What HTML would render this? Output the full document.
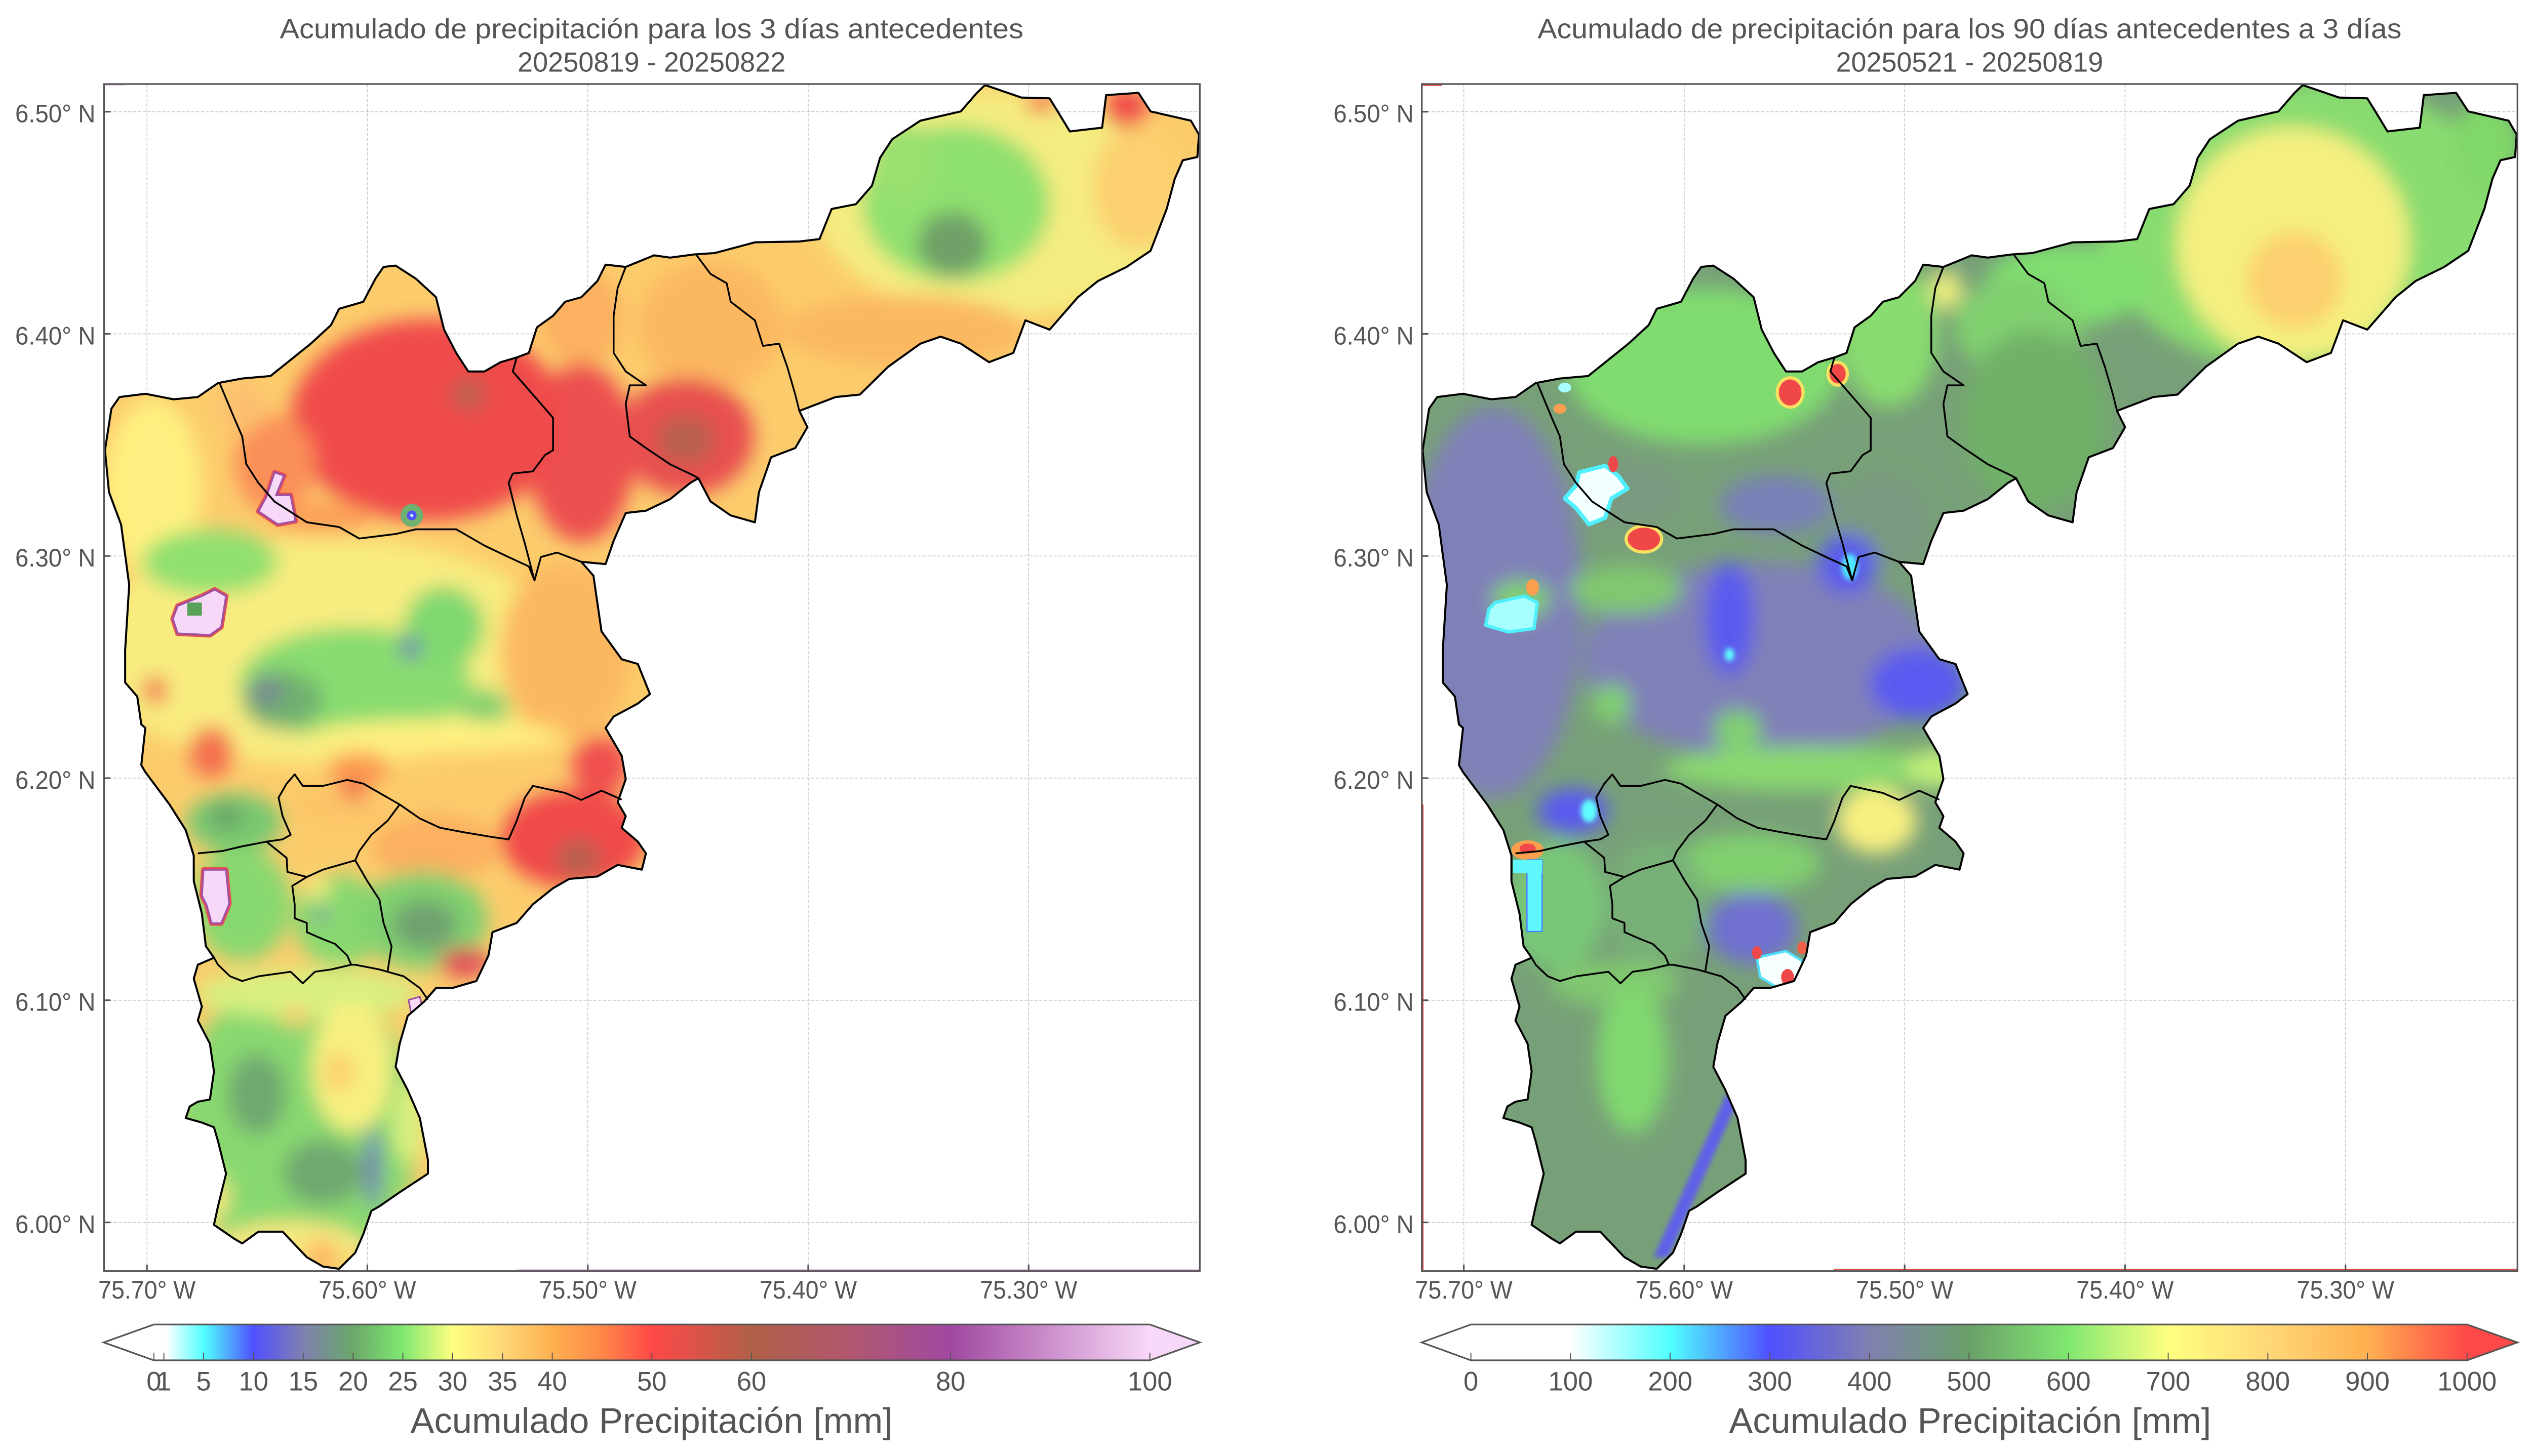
<!DOCTYPE html>
<html><head><meta charset="utf-8"><style>
html,body{margin:0;padding:0;background:#fff;overflow:hidden;width:100%;height:100%;}
svg{display:block;width:100vw;height:100vh;}
text{font-family:"Liberation Sans",sans-serif;fill:#555;}
</style></head><body>
<svg viewBox="0 0 1568 894.05" preserveAspectRatio="none" xmlns="http://www.w3.org/2000/svg" xmlns:xlink="http://www.w3.org/1999/xlink">
<defs>
<path id="outp" d="M610,52.2 L632.5,59.9 650,60.4 655,68.4 662.5,80.7 682.5,78.4 685,58.4 705,57 712.5,68.4 737.5,74.1 742.5,82.7 741.5,96.4 732.5,98.4 727.5,109.8 722.5,128.3 712.5,154 697.5,164 680,172.5 667.5,182.5 650,202.4 635,196.7 627.5,216.7 612.5,222.4 595,211 582.5,206.7 570,211 550,225.2 532.5,242.3 517.5,243.8 495,252.3 500,262.3 492.5,275.1 477.5,280.8 475,288 470,302.2 467.5,320.7 452.5,316.5 440,307.9 432.5,293.7 427.5,296.5 415,306.5 400,313.6 387.5,315 380,332.1 375,346.4 360,345 367.5,353.5 370,370.6 372.5,387.7 385,404.8 395,407.7 402.5,426.2 395,432 380,440 375,447 385,464.1 387.5,478.4 382.5,492.6 387.5,501.2 385,508.3 395,516.8 400,524 397.5,534 382.5,531.1 370,538.2 352.5,539.7 342.5,545.4 330,555.3 320,566.7 305,572.4 302.5,586.7 295,602.4 280,606.7 270,606.7 262.5,615.2 252.5,623.8 247.5,640.9 245,655.1 252.5,669.4 260,686.5 265,712.2 265,720.7 247.5,732.1 235,740.7 230,743.5 225,757.8 220,769.2 210,779.1 200,777.7 190,772 175,756.3 160,756.3 150,763.5 145,760.6 132.5,752.1 135,740.7 140,720.7 135,700.7 132.5,692.2 125,689.3 115,686.5 117.5,679.4 122.5,676.5 130,675.1 132.5,658 130,640.9 122.5,626.6 125,618.1 120,601 122.5,592.4 132.5,588.1 127.5,581 125,561 120,541.1 120,525.4 115,509.7 105,494 90,474.1 87.5,469.8 90,447 87.5,444.8 85,427.7 77.5,419.1 77.5,399.1 80,359.2 75,322.2 67.5,302.2 65,276.5 69,250.9 74,243.8 90,241.8 107.5,245.2 122.5,243.8 135,235.2 150,232.4 167.5,230.9 192.5,211 205,199.6 210,189.6 225,185.3 232.5,171.1 237.5,163.9 245,163.1 257.5,171.1 270,182.5 275,202.4 282.5,216.7 290,228.1 300,228.1 310,222.4 320,219.5 327.5,216.7 332.5,201 342.5,193.9 350,185.3 360,182.5 370,172.5 375,162.5 387.5,163.9 405,156.8 415,158.2 430,156.2 442.5,155.4 467.5,148.8 495,148.3 507.5,146.8 515,128.3 530,125.4 540,114 545,96.9 552.5,85.5 570,74.1 595,68.4 605,57 Z"/>
<clipPath id="clipL"><use xlink:href="#outp"/></clipPath>
<g id="bnd" fill="none" stroke="#000" stroke-width="1.1" stroke-linejoin="round">
<polyline points="136,235.2 145,256.6 150,268 152.5,285 160,296.5 170,308 190,320.7 210,323.6 222.5,330.7 245,327.9 257.5,325 282.5,325 300,335 315,342.1 327.5,347.8 331,356.4 335,342 345,339.3 360,345"/>
<polyline points="331,356.4 325,333.6 320,316.5 315,296.5 317.5,290.8 330,289.4 337.5,279.4 342.5,276.5 342.5,256.6 335,248 325,236.6 317.5,228.1 320,219.5"/>
<polyline points="387.5,163.9 382.5,176.8 380,193.9 380,216.7 387.5,228.1 400,236.6 390,236.6 387.5,248 390,268 400,275.1 415,285.1 430,292.2 432.5,293.7"/>
<polyline points="431,156.2 440,168.2 450,173.9 452.5,185.3 467.5,196.7 472.5,212.4 482.5,211 487.5,225.2 492.5,242.3 495,252.3"/>
<polyline points="385,491 372.5,485.5 360,491.2 350,486.9 330,482.6 325,489.8 320,504 315,515.4 305,514 287.5,511.1 272.5,508.3 260,502.6 247.5,494 235,486.9 225,481.2 215,478.9 200,482.6 187.5,482.6 182.5,475.5 177.5,481.2 172.5,489.8 175,501.2 180,512.6 175,515.4 165,516.8 150,519.7 137.5,522.6 122.5,524"/>
<polyline points="165,516.8 177.5,526.8 178,535.4 190,538.5 200,534 220,528.3"/>
<polyline points="247.5,494 240,504 230,512.6 222.5,522.6 220,528.3 227.5,541.1 235,552.5 237.5,566.7 242.5,581 240,596.7"/>
<polyline points="190,538.5 181,544 182.5,555.3 182.5,563.9 190,566.7 190,572.4 200,576.7 207.5,579.6 215,586.7 217.5,592.4"/>
<polyline points="132.5,588.1 135,592.4 142.5,599.5 150,602.4 160,599.5 170,598.1 180,596.7 187.5,603.8 195,596.7 205,595.3 217.5,592.4 220,592.4 235,595.3 250,599.5 260,606.7 265,613.8"/>
</g>
<filter id="bl" filterUnits="userSpaceOnUse" x="-100" y="0" width="1000" height="900"><feGaussianBlur stdDeviation="6"/></filter>
<filter id="bl2" filterUnits="userSpaceOnUse" x="-100" y="0" width="1000" height="900"><feGaussianBlur stdDeviation="1.5"/></filter>
<linearGradient id="gL" gradientUnits="userSpaceOnUse" x1="95.3" y1="0" x2="712.1" y2="0">
<stop offset="0" stop-color="#ffffff"/><stop offset="0.012" stop-color="#ffffff"/>
<stop offset="0.05" stop-color="#50ffff"/><stop offset="0.10" stop-color="#5050ff"/>
<stop offset="0.15" stop-color="#8080b0"/><stop offset="0.20" stop-color="#6aa86a"/>
<stop offset="0.25" stop-color="#80e870"/><stop offset="0.30" stop-color="#ffff80"/>
<stop offset="0.35" stop-color="#ffd878"/><stop offset="0.40" stop-color="#ffb050"/>
<stop offset="0.45" stop-color="#ff8848"/><stop offset="0.50" stop-color="#ff4848"/>
<stop offset="0.60" stop-color="#b06048"/><stop offset="0.70" stop-color="#b05870"/>
<stop offset="0.80" stop-color="#a048a0"/><stop offset="1" stop-color="#f8d8f8"/>
</linearGradient>
<linearGradient id="gR" gradientUnits="userSpaceOnUse" x1="910.9" y1="0" x2="1527.8" y2="0">
<stop offset="0" stop-color="#ffffff"/><stop offset="0.1" stop-color="#ffffff"/>
<stop offset="0.2" stop-color="#50ffff"/><stop offset="0.3" stop-color="#5050ff"/>
<stop offset="0.4" stop-color="#8080b0"/><stop offset="0.5" stop-color="#6aa06a"/>
<stop offset="0.6" stop-color="#80e870"/><stop offset="0.7" stop-color="#ffff80"/>
<stop offset="0.8" stop-color="#ffd878"/><stop offset="0.9" stop-color="#ffb050"/>
<stop offset="1" stop-color="#ff4848"/>
</linearGradient>
</defs>

<!-- ===== LEFT PANEL ===== -->
<g stroke="#c8c8c8" stroke-width="0.5" stroke-dasharray="2 1">
<line x1="64.4" x2="743" y1="68.6" y2="68.6"/><line x1="64.4" x2="743" y1="205" y2="205"/>
<line x1="64.4" x2="743" y1="341.4" y2="341.4"/><line x1="64.4" x2="743" y1="477.8" y2="477.8"/>
<line x1="64.4" x2="743" y1="614.2" y2="614.2"/><line x1="64.4" x2="743" y1="750.6" y2="750.6"/>
<line y1="51.6" y2="780.5" x1="91" x2="91"/><line y1="51.6" y2="780.5" x1="227.5" x2="227.5"/>
<line y1="51.6" y2="780.5" x1="364" x2="364"/><line y1="51.6" y2="780.5" x1="500.5" x2="500.5"/>
<line y1="51.6" y2="780.5" x1="637" x2="637"/>
</g>

<g clip-path="url(#clipL)">
<rect x="50" y="40" width="720" height="760" fill="#fccc6c"/>
<g filter="url(#bl)">
<ellipse cx="620" cy="125" rx="115" ry="70" fill="#f4ec80"/>
<ellipse cx="592" cy="125" rx="58" ry="48" fill="#8ee070"/>
<ellipse cx="560" cy="100" rx="20" ry="25" fill="#98e070"/>
<ellipse cx="590" cy="150" rx="22" ry="20" fill="#70a068"/>
<ellipse cx="560" cy="203" rx="75" ry="22" fill="#fbb860"/>
<ellipse cx="705" cy="115" rx="28" ry="38" fill="#fcd070"/>
<ellipse cx="697" cy="66" rx="14" ry="12" fill="#f04848"/>
<ellipse cx="645" cy="63" rx="10" ry="6" fill="#f46050"/>
<ellipse cx="440" cy="200" rx="45" ry="40" fill="#fcb860"/>
<ellipse cx="425" cy="268" rx="42" ry="36" fill="#e85050"/>
<ellipse cx="425" cy="270" rx="18" ry="15" fill="#b86050"/>
<ellipse cx="360" cy="195" rx="25" ry="30" fill="#fcb060"/>
<ellipse cx="360" cy="278" rx="33" ry="55" fill="#ec5050"/>
<ellipse cx="265" cy="258" rx="85" ry="62" fill="#f04c4c"/>
<ellipse cx="290" cy="242" rx="10" ry="10" fill="#b86050"/>
<ellipse cx="170" cy="285" rx="25" ry="30" fill="#fa9058"/>
<ellipse cx="150" cy="250" rx="15" ry="15" fill="#fcc070"/>
<ellipse cx="200" cy="318" rx="30" ry="10" fill="#fca058"/>
<ellipse cx="200" cy="400" rx="150" ry="70" fill="#f8ec80"/>
<ellipse cx="95" cy="300" rx="30" ry="55" fill="#fef080"/>
<ellipse cx="130" cy="345" rx="42" ry="20" fill="#90e070"/>
<ellipse cx="220" cy="420" rx="72" ry="35" fill="#88dc70"/>
<ellipse cx="275" cy="385" rx="25" ry="25" fill="#80d870"/>
<ellipse cx="175" cy="430" rx="25" ry="18" fill="#70b070"/>
<ellipse cx="165" cy="424" rx="10" ry="10" fill="#7a8a90"/>
<ellipse cx="254" cy="398" rx="6" ry="7" fill="#7070b8"/>
<ellipse cx="300" cy="435" rx="15" ry="12" fill="#80d070"/>
<ellipse cx="350" cy="400" rx="40" ry="55" fill="#fcb860"/>
<ellipse cx="270" cy="452" rx="80" ry="10" fill="#fff080"/>
<ellipse cx="131" cy="462" rx="14" ry="16" fill="#f47050"/>
<ellipse cx="222" cy="472" rx="20" ry="10" fill="#fc9850"/>
<ellipse cx="96" cy="424" rx="7" ry="8" fill="#f05048"/>
<ellipse cx="372" cy="470" rx="18" ry="18" fill="#f05050"/>
<ellipse cx="355" cy="515" rx="45" ry="30" fill="#f04848"/>
<ellipse cx="358" cy="527" rx="14" ry="12" fill="#b86050"/>
<ellipse cx="270" cy="520" rx="40" ry="20" fill="#fcb060"/>
<ellipse cx="210" cy="495" rx="30" ry="12" fill="#fcc468"/>
<ellipse cx="219" cy="485" rx="8" ry="6" fill="#f06050"/>
<ellipse cx="145" cy="505" rx="30" ry="18" fill="#78c870"/>
<ellipse cx="140" cy="501" rx="10" ry="8" fill="#68a068"/>
<ellipse cx="150" cy="555" rx="30" ry="35" fill="#88d870"/>
<ellipse cx="210" cy="565" rx="28" ry="28" fill="#88d870"/>
<ellipse cx="197" cy="546" rx="8" ry="6" fill="#f0f080"/>
<ellipse cx="199" cy="562" rx="4" ry="4" fill="#8080b0"/>
<ellipse cx="262" cy="565" rx="40" ry="30" fill="#80d070"/>
<ellipse cx="263" cy="568" rx="20" ry="15" fill="#70a070"/>
<ellipse cx="288" cy="591" rx="16" ry="9" fill="#e04858"/>
<ellipse cx="185" cy="690" rx="75" ry="90" fill="#88d870"/>
<ellipse cx="190" cy="610" rx="70" ry="15" fill="#d8f080"/>
<ellipse cx="218" cy="655" rx="25" ry="40" fill="#f8f080"/>
<ellipse cx="210" cy="658" rx="10" ry="12" fill="#fcd070"/>
<ellipse cx="159" cy="672" rx="18" ry="25" fill="#70a870"/>
<ellipse cx="200" cy="720" rx="25" ry="20" fill="#70a870"/>
<ellipse cx="231" cy="717" rx="5" ry="25" fill="#7078b8"/>
<ellipse cx="253" cy="690" rx="10" ry="25" fill="#d8f080"/>
<ellipse cx="180" cy="765" rx="45" ry="15" fill="#f8e880"/>
<ellipse cx="199" cy="770" rx="10" ry="8" fill="#fcb060"/>
<ellipse cx="130" cy="735" rx="12" ry="15" fill="#f8e880"/>
<ellipse cx="183" cy="624" rx="10" ry="6" fill="#fcd070"/>
</g>
<g stroke-linejoin="round">
<polygon points="170,290 176,292 171,304 180,304 183,320 172,322 160,314 165,305" fill="#f8d8f8" stroke="#e85050" stroke-width="3"/>
<polygon points="170,290 176,292 171,304 180,304 183,320 172,322 160,314 165,305" fill="#f8d8f8" stroke="#a050a0" stroke-width="1.2"/>
<polygon points="110,372 125,366 133,362 140,366 137,385 130,390 110,389 107,380" fill="#f8d8f8" stroke="#e85050" stroke-width="3"/>
<polygon points="110,372 125,366 133,362 140,366 137,385 130,390 110,389 107,380" fill="#f8d8f8" stroke="#a050a0" stroke-width="1.2"/>
<rect x="116" y="370" width="9" height="8" fill="#58a058"/>
<polygon points="126,534 140,534 142,555 137,567 131,567 128,556 125,550" fill="#f8d8f8" stroke="#e85050" stroke-width="3"/>
<polygon points="126,534 140,534 142,555 137,567 131,567 128,556 125,550" fill="#f8d8f8" stroke="#a050a0" stroke-width="1.2"/>
<polygon points="253,614 260,612 262,620 255,624" fill="#f8d8f8" stroke="#a050a0" stroke-width="1"/>
<circle cx="255" cy="316.5" r="7" fill="#70b070"/>
<circle cx="255" cy="316.5" r="3" fill="#5050ff"/>
<circle cx="255" cy="316.5" r="1" fill="#c0ffff"/>
</g>
</g>
<use xlink:href="#outp" fill="none" stroke="#000" stroke-width="1.25" stroke-linejoin="round"/>
<use xlink:href="#bnd"/>

<line x1="320" x2="743" y1="779.6" y2="779.6" stroke="#f0c8f0" stroke-width="0.6"/>
<line x1="65" x2="77" y1="52.4" y2="52.4" stroke="#f0c8f0" stroke-width="0.6"/>

<rect x="64.4" y="51.6" width="678.6" height="728.9" fill="none" stroke="#555" stroke-width="1.03"/>
<g stroke="#555" stroke-width="1">
<line x1="64.4" x2="68.4" y1="68.6" y2="68.6"/><line x1="64.4" x2="68.4" y1="205" y2="205"/>
<line x1="64.4" x2="68.4" y1="341.4" y2="341.4"/><line x1="64.4" x2="68.4" y1="477.8" y2="477.8"/>
<line x1="64.4" x2="68.4" y1="614.2" y2="614.2"/><line x1="64.4" x2="68.4" y1="750.6" y2="750.6"/>
<line y1="780.5" y2="776.5" x1="91" x2="91"/><line y1="780.5" y2="776.5" x1="227.5" x2="227.5"/>
<line y1="780.5" y2="776.5" x1="364" x2="364"/><line y1="780.5" y2="776.5" x1="500.5" x2="500.5"/>
<line y1="780.5" y2="776.5" x1="637" x2="637"/>
</g>
<g font-size="15.5" text-anchor="end">
<text x="59.1" y="75.1" textLength="49.7" lengthAdjust="spacingAndGlyphs">6.50° N</text>
<text x="59.1" y="211.5" textLength="49.7" lengthAdjust="spacingAndGlyphs">6.40° N</text>
<text x="59.1" y="347.9" textLength="49.7" lengthAdjust="spacingAndGlyphs">6.30° N</text>
<text x="59.1" y="484.3" textLength="49.7" lengthAdjust="spacingAndGlyphs">6.20° N</text>
<text x="59.1" y="620.7" textLength="49.7" lengthAdjust="spacingAndGlyphs">6.10° N</text>
<text x="59.1" y="757.1" textLength="49.7" lengthAdjust="spacingAndGlyphs">6.00° N</text>
</g>
<g font-size="15.5" text-anchor="middle">
<text x="91" y="797.4" textLength="60.3" lengthAdjust="spacingAndGlyphs">75.70° W</text>
<text x="227.5" y="797.4" textLength="60.3" lengthAdjust="spacingAndGlyphs">75.60° W</text>
<text x="364" y="797.4" textLength="60.3" lengthAdjust="spacingAndGlyphs">75.50° W</text>
<text x="500.5" y="797.4" textLength="60.3" lengthAdjust="spacingAndGlyphs">75.40° W</text>
<text x="637" y="797.4" textLength="60.3" lengthAdjust="spacingAndGlyphs">75.30° W</text>
</g>
<g font-size="17" text-anchor="middle">
<text x="403.5" y="23.4" textLength="460.5" lengthAdjust="spacingAndGlyphs">Acumulado de precipitación para los 3 días antecedentes</text>
<text x="403.5" y="44" textLength="166" lengthAdjust="spacingAndGlyphs">20250819 - 20250822</text>
</g>

<polygon points="64.2,824.3 95.3,813.3 95.3,835.3" fill="#ffffff"/>
<polygon points="743,824.3 712.1,813.3 712.1,835.3" fill="#f8d8f8"/>
<rect x="95.3" y="813.3" width="616.8" height="22" fill="url(#gL)"/>
<g stroke="#555" stroke-width="0.6">
<line x1="95.3" x2="95.3" y1="830.6" y2="835.3"/><line x1="101.5" x2="101.5" y1="830.6" y2="835.3"/>
<line x1="126.1" x2="126.1" y1="830.6" y2="835.3"/><line x1="157" x2="157" y1="830.6" y2="835.3"/>
<line x1="187.8" x2="187.8" y1="830.6" y2="835.3"/><line x1="218.7" x2="218.7" y1="830.6" y2="835.3"/>
<line x1="249.5" x2="249.5" y1="830.6" y2="835.3"/><line x1="280.3" x2="280.3" y1="830.6" y2="835.3"/>
<line x1="311.2" x2="311.2" y1="830.6" y2="835.3"/><line x1="342" x2="342" y1="830.6" y2="835.3"/>
<line x1="403.7" x2="403.7" y1="830.6" y2="835.3"/><line x1="465.4" x2="465.4" y1="830.6" y2="835.3"/>
<line x1="588.7" x2="588.7" y1="830.6" y2="835.3"/><line x1="712.1" x2="712.1" y1="830.6" y2="835.3"/>
</g>
<polygon points="64.2,824.3 95.3,813.3 712.1,813.3 743,824.3 712.1,835.3 95.3,835.3" fill="none" stroke="#555" stroke-width="1.03" stroke-linejoin="miter"/>
<g font-size="16.5" text-anchor="middle">
<text x="95.3" y="853.8">0</text><text x="101.5" y="853.8">1</text>
<text x="126.1" y="853.8">5</text><text x="157" y="853.8">10</text>
<text x="187.8" y="853.8">15</text><text x="218.7" y="853.8">20</text>
<text x="249.5" y="853.8">25</text><text x="280.3" y="853.8">30</text>
<text x="311.2" y="853.8">35</text><text x="342" y="853.8">40</text>
<text x="403.7" y="853.8">50</text><text x="465.4" y="853.8">60</text>
<text x="588.7" y="853.8">80</text><text x="712.1" y="853.8">100</text>
</g>
<text x="403.5" y="879.9" font-size="22" text-anchor="middle" textLength="298.7" lengthAdjust="spacingAndGlyphs">Acumulado Precipitación [mm]</text>

<!-- ===== RIGHT PANEL ===== -->
<g stroke="#c8c8c8" stroke-width="0.5" stroke-dasharray="2 1">
<line x1="880.5" x2="1559" y1="68.6" y2="68.6"/><line x1="880.5" x2="1559" y1="205" y2="205"/>
<line x1="880.5" x2="1559" y1="341.4" y2="341.4"/><line x1="880.5" x2="1559" y1="477.8" y2="477.8"/>
<line x1="880.5" x2="1559" y1="614.2" y2="614.2"/><line x1="880.5" x2="1559" y1="750.6" y2="750.6"/>
<line y1="51.6" y2="780.5" x1="906.5" x2="906.5"/><line y1="51.6" y2="780.5" x1="1043" x2="1043"/>
<line y1="51.6" y2="780.5" x1="1179.5" x2="1179.5"/><line y1="51.6" y2="780.5" x1="1316" x2="1316"/>
<line y1="51.6" y2="780.5" x1="1452.5" x2="1452.5"/>
</g>

<g transform="translate(816,0)">
<g clip-path="url(#clipL)">
<rect x="50" y="40" width="720" height="760" fill="#78a078"/>
<g filter="url(#bl)">
<ellipse cx="614" cy="140" rx="130" ry="90" fill="#88dc70"/>
<ellipse cx="604" cy="150" rx="72" ry="72" fill="#f4f080"/>
<ellipse cx="605" cy="172" rx="30" ry="30" fill="#fcd070"/>
<ellipse cx="464" cy="175" rx="50" ry="25" fill="#80e070"/>
<ellipse cx="724" cy="90" rx="20" ry="30" fill="#80d868"/>
<ellipse cx="434" cy="200" rx="40" ry="30" fill="#80d070"/>
<ellipse cx="444" cy="258" rx="45" ry="55" fill="#6fb068"/>
<ellipse cx="389" cy="178" rx="10" ry="12" fill="#f0f080"/>
<ellipse cx="354" cy="205" rx="30" ry="45" fill="#88dc70"/>
<ellipse cx="349" cy="322" rx="30" ry="30" fill="#7a9a80"/>
<ellipse cx="239" cy="225" rx="85" ry="48" fill="#80dc70"/>
<ellipse cx="191" cy="303" rx="35" ry="20" fill="#7a9a80"/>
<ellipse cx="284" cy="310" rx="35" ry="18" fill="#7880b8"/>
<ellipse cx="109" cy="370" rx="55" ry="120" fill="#8080b8"/>
<ellipse cx="126" cy="368" rx="18" ry="12" fill="#80d070"/>
<ellipse cx="274" cy="405" rx="110" ry="60" fill="#8080b8"/>
<ellipse cx="191" cy="362" rx="35" ry="15" fill="#80c870"/>
<ellipse cx="255" cy="380" rx="15" ry="35" fill="#5a5af0"/>
<ellipse cx="328" cy="346" rx="18" ry="18" fill="#5a5af0"/>
<ellipse cx="372" cy="420" rx="30" ry="22" fill="#5a5af0"/>
<ellipse cx="182" cy="432" rx="12" ry="12" fill="#80d070"/>
<ellipse cx="260" cy="448" rx="15" ry="12" fill="#80d070"/>
<ellipse cx="304" cy="472" rx="90" ry="14" fill="#88d870"/>
<ellipse cx="384" cy="472" rx="20" ry="12" fill="#c0f078"/>
<ellipse cx="158" cy="498" rx="22" ry="14" fill="#5a5af0"/>
<ellipse cx="346" cy="504" rx="25" ry="20" fill="#f8f080"/>
<ellipse cx="267" cy="530" rx="45" ry="18" fill="#80d070"/>
<ellipse cx="269" cy="570" rx="28" ry="22" fill="#7070d0"/>
<ellipse cx="210" cy="556" rx="30" ry="40" fill="#78b078"/>
<ellipse cx="148" cy="556" rx="30" ry="40" fill="#78c878"/>
<ellipse cx="184" cy="604" rx="40" ry="14" fill="#80c870"/>
<ellipse cx="195" cy="650" rx="22" ry="46" fill="#80d870"/>
</g>
<g filter="url(#bl2)">
<ellipse cx="168" cy="498" rx="5" ry="7" fill="#60ffff"/>
<ellipse cx="255" cy="402" rx="3" ry="4" fill="#60ffff"/>
<ellipse cx="329.5" cy="348" rx="5" ry="8" fill="#50e8ff"/>
<polygon points="208,772 217,772 262,672 253,672" fill="#6060e8"/>
</g>
<g stroke-linejoin="round">
<ellipse cx="292.6" cy="241" rx="9" ry="10" fill="#f8e060"/>
<ellipse cx="292.6" cy="241" rx="7" ry="8" fill="#f04848"/>
<ellipse cx="322" cy="229.5" rx="7" ry="8" fill="#f8e060"/>
<ellipse cx="322" cy="229.5" rx="5" ry="6" fill="#f04848"/>
<polygon points="162,290 178,286 186,292 192,300 182,306 178,318 168,322 160,312 153,306 160,298" fill="#f4ffff" stroke="#50f0ff" stroke-width="2.5"/>
<polygon points="110,370 128,366 136,370 134,386 118,388 104,384 106,374" fill="#a8ffff" stroke="#50f0ff" stroke-width="2"/>
<ellipse cx="202" cy="331" rx="12" ry="9" fill="#f8e060"/>
<ellipse cx="202" cy="331" rx="10" ry="7" fill="#f04848"/>
<ellipse cx="183" cy="285" rx="3" ry="5" fill="#f04848"/>
<ellipse cx="133" cy="360.7" rx="4" ry="5" fill="#fca050"/>
<ellipse cx="150" cy="251" rx="4" ry="3" fill="#fca050"/>
<ellipse cx="153" cy="238" rx="4" ry="3" fill="#a8ffff"/>
<ellipse cx="130" cy="522" rx="10" ry="6" fill="#fca050"/>
<ellipse cx="130" cy="521" rx="5" ry="3" fill="#f04848"/>
<rect x="129.6" y="528" width="9.4" height="44" fill="#60f8ff" stroke="#5080ff" stroke-width="0.8"/>
<rect x="121" y="528" width="18" height="8" fill="#60f8ff"/>
<polygon points="272,588 290,584 300,590 300,604 284,606 274,600" fill="#f8ffff" stroke="#50e0ff" stroke-width="1.5"/>
<ellipse cx="291" cy="600" rx="4" ry="5" fill="#f04848"/>
<ellipse cx="272" cy="585" rx="3" ry="4" fill="#f04848"/>
<ellipse cx="300" cy="582" rx="3" ry="4" fill="#f06048"/>
</g>
</g>
<use xlink:href="#outp" fill="none" stroke="#000" stroke-width="1.25" stroke-linejoin="round"/>
<use xlink:href="#bnd"/>
</g>

<line x1="881.2" x2="881.2" y1="494" y2="780" stroke="#e04848" stroke-width="0.7"/>
<line x1="1135.5" x2="1559" y1="779.5" y2="779.5" stroke="#e04848" stroke-width="0.8"/>
<line x1="881" x2="893" y1="52.4" y2="52.4" stroke="#e04848" stroke-width="0.7"/>

<rect x="880.5" y="51.6" width="678.5" height="728.9" fill="none" stroke="#555" stroke-width="1.03"/>
<g stroke="#555" stroke-width="1">
<line x1="880.5" x2="884.5" y1="68.6" y2="68.6"/><line x1="880.5" x2="884.5" y1="205" y2="205"/>
<line x1="880.5" x2="884.5" y1="341.4" y2="341.4"/><line x1="880.5" x2="884.5" y1="477.8" y2="477.8"/>
<line x1="880.5" x2="884.5" y1="614.2" y2="614.2"/><line x1="880.5" x2="884.5" y1="750.6" y2="750.6"/>
<line y1="780.5" y2="776.5" x1="906.5" x2="906.5"/><line y1="780.5" y2="776.5" x1="1043" x2="1043"/>
<line y1="780.5" y2="776.5" x1="1179.5" x2="1179.5"/><line y1="780.5" y2="776.5" x1="1316" x2="1316"/>
<line y1="780.5" y2="776.5" x1="1452.5" x2="1452.5"/>
</g>
<g font-size="15.5" text-anchor="end">
<text x="875.5" y="75.1" textLength="49.7" lengthAdjust="spacingAndGlyphs">6.50° N</text>
<text x="875.5" y="211.5" textLength="49.7" lengthAdjust="spacingAndGlyphs">6.40° N</text>
<text x="875.5" y="347.9" textLength="49.7" lengthAdjust="spacingAndGlyphs">6.30° N</text>
<text x="875.5" y="484.3" textLength="49.7" lengthAdjust="spacingAndGlyphs">6.20° N</text>
<text x="875.5" y="620.7" textLength="49.7" lengthAdjust="spacingAndGlyphs">6.10° N</text>
<text x="875.5" y="757.1" textLength="49.7" lengthAdjust="spacingAndGlyphs">6.00° N</text>
</g>
<g font-size="15.5" text-anchor="middle">
<text x="906.5" y="797.4" textLength="60.3" lengthAdjust="spacingAndGlyphs">75.70° W</text>
<text x="1043" y="797.4" textLength="60.3" lengthAdjust="spacingAndGlyphs">75.60° W</text>
<text x="1179.5" y="797.4" textLength="60.3" lengthAdjust="spacingAndGlyphs">75.50° W</text>
<text x="1316" y="797.4" textLength="60.3" lengthAdjust="spacingAndGlyphs">75.40° W</text>
<text x="1452.5" y="797.4" textLength="60.3" lengthAdjust="spacingAndGlyphs">75.30° W</text>
</g>
<g font-size="17" text-anchor="middle">
<text x="1219.7" y="23.4" textLength="535" lengthAdjust="spacingAndGlyphs">Acumulado de precipitación para los 90 días antecedentes a 3 días</text>
<text x="1219.7" y="44" textLength="165.5" lengthAdjust="spacingAndGlyphs">20250521 - 20250819</text>
</g>

<polygon points="880.4,824.3 910.9,813.3 910.9,835.3" fill="#ffffff"/>
<polygon points="1559,824.3 1527.8,813.3 1527.8,835.3" fill="#ff4848"/>
<rect x="910.9" y="813.3" width="616.9" height="22" fill="url(#gR)"/>
<g stroke="#555" stroke-width="0.6">
<line x1="910.9" x2="910.9" y1="830.6" y2="835.3"/><line x1="972.6" x2="972.6" y1="830.6" y2="835.3"/>
<line x1="1034.3" x2="1034.3" y1="830.6" y2="835.3"/><line x1="1096" x2="1096" y1="830.6" y2="835.3"/>
<line x1="1157.7" x2="1157.7" y1="830.6" y2="835.3"/><line x1="1219.4" x2="1219.4" y1="830.6" y2="835.3"/>
<line x1="1281" x2="1281" y1="830.6" y2="835.3"/><line x1="1342.7" x2="1342.7" y1="830.6" y2="835.3"/>
<line x1="1404.4" x2="1404.4" y1="830.6" y2="835.3"/><line x1="1466.1" x2="1466.1" y1="830.6" y2="835.3"/>
<line x1="1527.8" x2="1527.8" y1="830.6" y2="835.3"/>
</g>
<polygon points="880.4,824.3 910.9,813.3 1527.8,813.3 1559,824.3 1527.8,835.3 910.9,835.3" fill="none" stroke="#555" stroke-width="1.03"/>
<g font-size="16.5" text-anchor="middle">
<text x="910.9" y="853.8">0</text><text x="972.6" y="853.8">100</text>
<text x="1034.3" y="853.8">200</text><text x="1096" y="853.8">300</text>
<text x="1157.7" y="853.8">400</text><text x="1219.4" y="853.8">500</text>
<text x="1281" y="853.8">600</text><text x="1342.7" y="853.8">700</text>
<text x="1404.4" y="853.8">800</text><text x="1466.1" y="853.8">900</text>
<text x="1527.8" y="853.8">1000</text>
</g>
<text x="1220" y="879.9" font-size="22" text-anchor="middle" textLength="298.6" lengthAdjust="spacingAndGlyphs">Acumulado Precipitación [mm]</text>
</svg>
</body></html>
